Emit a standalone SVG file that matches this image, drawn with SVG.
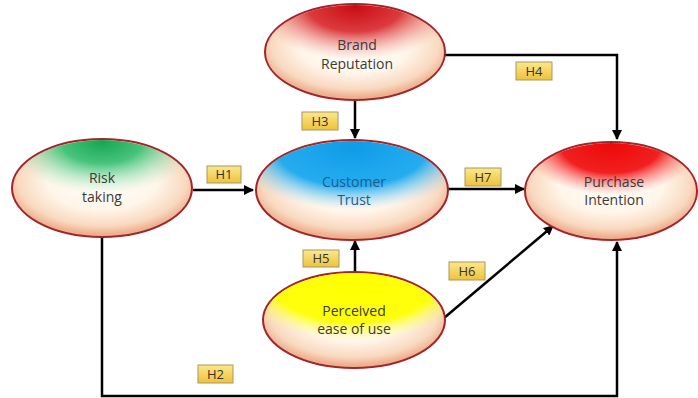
<svg xmlns="http://www.w3.org/2000/svg" width="698" height="398" viewBox="0 0 698 398">
<defs>
  <radialGradient id="base" cx="50%" cy="42%" r="55%">
    <stop offset="0" stop-color="#fffdf8"/>
    <stop offset="0.55" stop-color="#fff6ea"/>
    <stop offset="0.85" stop-color="#f9d9c0"/>
    <stop offset="1" stop-color="#eeb08e"/>
  </radialGradient>
  <radialGradient id="gGreen" cx="50%" cy="2%" r="75%">
    <stop offset="0" stop-color="#17a552"/>
    <stop offset="0.3" stop-color="#32be70" stop-opacity="0.9"/>
    <stop offset="0.72" stop-color="#a8eac3" stop-opacity="0"/>
  </radialGradient>
  <radialGradient id="gRed" cx="50%" cy="2%" r="75%">
    <stop offset="0" stop-color="#c80c14"/>
    <stop offset="0.35" stop-color="#d8262b" stop-opacity="0.9"/>
    <stop offset="0.75" stop-color="#f29a96" stop-opacity="0"/>
  </radialGradient>
  <radialGradient id="gRed2" cx="50%" cy="2%" r="65%">
    <stop offset="0" stop-color="#ee0808"/>
    <stop offset="0.45" stop-color="#f01515" stop-opacity="0.95"/>
    <stop offset="0.8" stop-color="#f77" stop-opacity="0"/>
  </radialGradient>
  <radialGradient id="gBlue" cx="50%" cy="6%" r="80%">
    <stop offset="0" stop-color="#0e9ce8"/>
    <stop offset="0.5" stop-color="#1eaaef" stop-opacity="0.97"/>
    <stop offset="0.8" stop-color="#8ad4f7" stop-opacity="0"/>
  </radialGradient>
  <radialGradient id="gYellow" cx="50%" cy="6%" r="85%">
    <stop offset="0" stop-color="#ffff00"/>
    <stop offset="0.55" stop-color="#ffff08" stop-opacity="0.98"/>
    <stop offset="0.78" stop-color="#ffff88" stop-opacity="0"/>
  </radialGradient>
  <linearGradient id="lbl" x1="0" y1="0" x2="0" y2="1">
    <stop offset="0" stop-color="#fbe88c"/>
    <stop offset="1" stop-color="#efc23a"/>
  </linearGradient>
  <marker id="arr" viewBox="0 0 10 10" refX="9" refY="5" markerWidth="4" markerHeight="4" orient="auto" markerUnits="strokeWidth">
    <path d="M0,0 L10,5 L0,10 z" fill="#000"/>
  </marker>
</defs>
<style>
  .el { stroke: #a3242a; stroke-width: 2; }
  .ov { stroke: none; }
  .t { font-family: "Open Sans", "Liberation Sans", sans-serif; font-size: 14px; fill: #3a3a3a; text-anchor: middle; }
  .tb { fill: #1d5c8f; }
  .c { fill: none; stroke: #000; stroke-width: 2.5; }
  .lb { fill: url(#lbl); stroke: #a99663; stroke-width: 1; }
  .lt { font-family: "Open Sans", "Liberation Sans", sans-serif; font-size: 13px; fill: #333; text-anchor: middle; }
</style>
<rect width="698" height="398" fill="#fff"/>
<g id="connectors">
  <path class="c" d="M193,190 L253,190" marker-end="url(#arr)"/>
  <path class="c" d="M102,237 L102,396 L617,396 L617,242" marker-end="url(#arr)"/>
  <path class="c" d="M355,100 L355,138" marker-end="url(#arr)"/>
  <path class="c" d="M445,55 L617,55 L617,139" marker-end="url(#arr)"/>
  <path class="c" d="M355,272 L355,241" marker-end="url(#arr)"/>
  <path class="c" d="M444,318 L553,226" marker-end="url(#arr)"/>
  <path class="c" d="M448,189 L524,189" marker-end="url(#arr)"/>
</g>
<g id="risk">
  <ellipse class="el" cx="102" cy="188" rx="90" ry="49" fill="url(#base)"/>
  <ellipse class="ov" cx="102" cy="188" rx="89" ry="48" fill="url(#gGreen)"/>
  <text class="t" x="102" y="183">Risk</text>
  <text class="t" x="102" y="202">taking</text>
</g>
<g id="brand">
  <ellipse class="el" cx="355" cy="52" rx="90" ry="48" fill="url(#base)"/>
  <ellipse class="ov" cx="355" cy="52" rx="89" ry="47" fill="url(#gRed)"/>
  <text class="t" x="357" y="50">Brand</text>
  <text class="t" x="357" y="69">Reputation</text>
</g>
<g id="trust">
  <ellipse class="el" cx="352" cy="190" rx="96" ry="50" fill="url(#base)"/>
  <ellipse class="ov" cx="352" cy="190" rx="95" ry="49" fill="url(#gBlue)"/>
  <text class="t tb" x="354" y="187">Customer</text>
  <text class="t tb" x="354" y="205">Trust</text>
</g>
<g id="purchase">
  <ellipse class="el" cx="611" cy="191" rx="86" ry="49" fill="url(#base)"/>
  <ellipse class="ov" cx="611" cy="191" rx="85" ry="48" fill="url(#gRed2)"/>
  <text class="t" x="614" y="187">Purchase</text>
  <text class="t" x="614" y="205">Intention</text>
</g>
<g id="peou">
  <ellipse class="el" cx="354" cy="320" rx="91" ry="48" fill="url(#base)"/>
  <ellipse class="ov" cx="354" cy="320" rx="90" ry="47" fill="url(#gYellow)"/>
  <text class="t" x="354" y="316">Perceived</text>
  <text class="t" x="354" y="334">ease of use</text>
</g>
<g id="labels">
  <rect class="lb" x="207" y="166" width="34" height="17"/><text class="lt" x="224" y="179">H1</text>
  <rect class="lb" x="198" y="365" width="35" height="18"/><text class="lt" x="215.5" y="378.5">H2</text>
  <rect class="lb" x="302" y="112" width="36" height="18"/><text class="lt" x="320" y="125.5">H3</text>
  <rect class="lb" x="516" y="62" width="36" height="18"/><text class="lt" x="534" y="75.5">H4</text>
  <rect class="lb" x="303" y="250" width="36" height="17"/><text class="lt" x="321" y="263">H5</text>
  <rect class="lb" x="449" y="262" width="36" height="18"/><text class="lt" x="467" y="275.5">H6</text>
  <rect class="lb" x="465" y="168" width="36" height="18"/><text class="lt" x="483" y="181.5">H7</text>
</g>
</svg>
